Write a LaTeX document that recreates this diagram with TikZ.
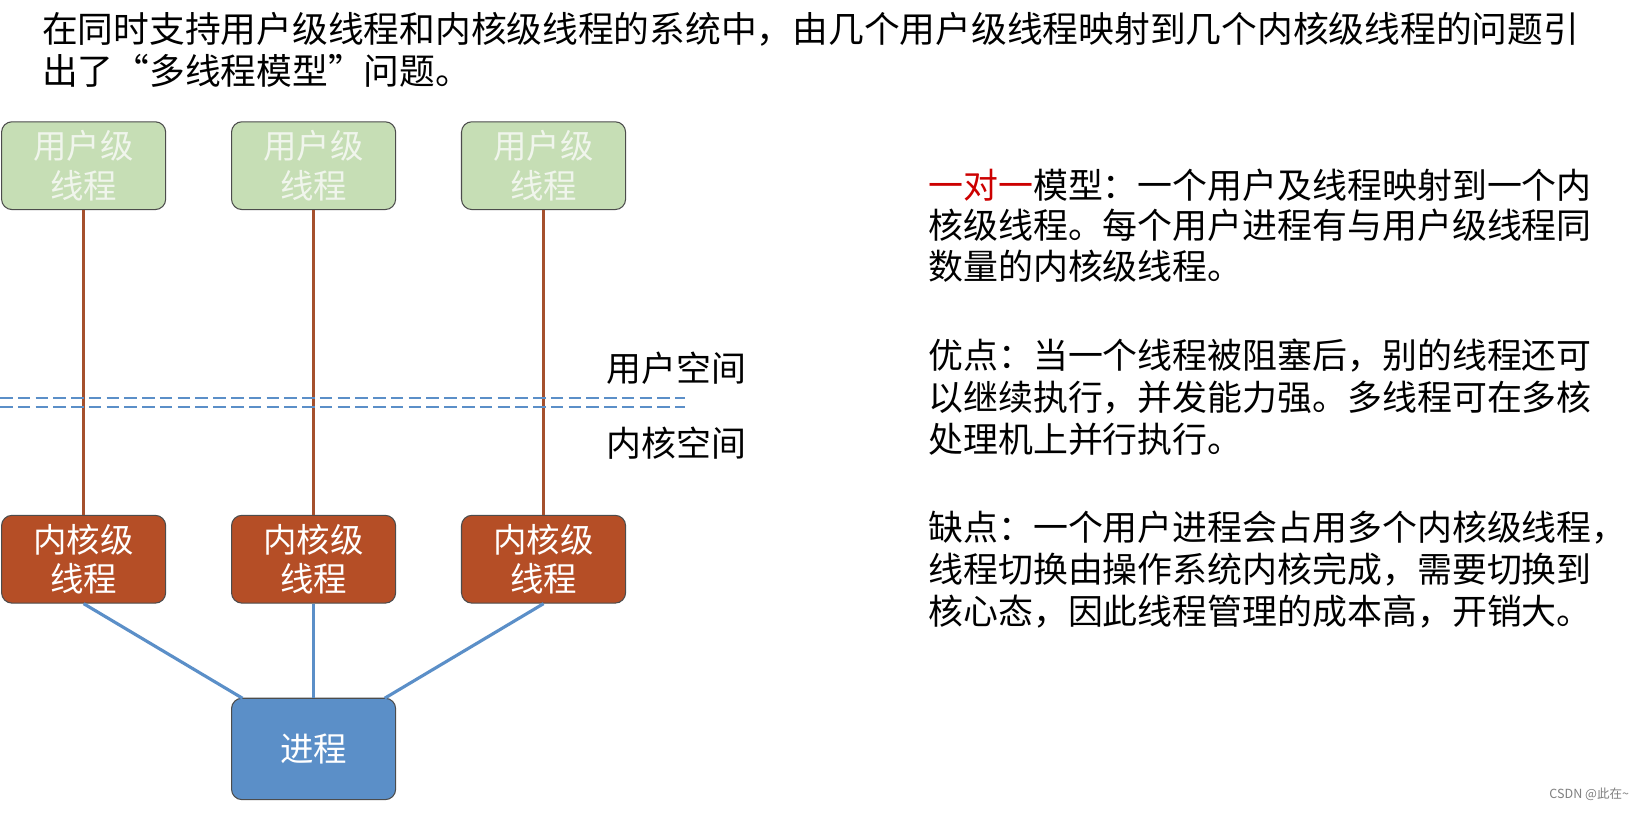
\documentclass[tikz,border=0pt]{standalone}
\usepackage{fontspec}
\setmainfont{Noto Sans CJK SC}
\begin{document}
\begin{tikzpicture}[x=1pt,y=-1pt,
 box/.style={draw=black!70,rounded corners=10pt,minimum width=157pt,minimum height=84pt,align=center,font=\fontsize{32}{38}\selectfont,line width=1pt},
 ubox/.style={box,fill={rgb,255:red,198;green,222;blue,181},text={rgb,255:red,240;green,245;blue,236}},
 kbox/.style={box,fill={rgb,255:red,181;green,78;blue,38},text=white},
 pbox/.style={box,fill={rgb,255:red,91;green,143;blue,200},text=white,minimum height=97pt},
 bl/.style={line width=3pt,draw={rgb,255:red,165;green,80;blue,45}},
 bu/.style={line width=3pt,draw={rgb,255:red,91;green,143;blue,200}},
 txt/.style={anchor=west,font=\fontsize{34.2}{40}\selectfont,inner sep=0pt},
 rtxt/.style={anchor=west,font=\fontsize{33.4}{40}\selectfont,inner sep=0pt}]
\useasboundingbox[fill=white] (0,0) rectangle (1568,778);
\node[txt] (t1) at (40,28) {在同时支持用户级线程和内核级线程的系统中，由几个用户级线程映射到几个内核级线程的问题引};
\node[txt] (t2) at (40,68) {出了“多线程模型”问题。};
\foreach \i/\x in {1/80,2/300,3/520}{
 \node[ubox] (u\i) at (\x,158.5) {用户级\\线程};
 \node[kbox] (k\i) at (\x,535) {内核级\\线程};
 \draw[bl] (u\i.south) -- (k\i.north);
}
\node[pbox] (p) at (300,716.5) {进程};
\coordinate (pl) at (232,668);
\coordinate (pr) at (368,668);
\draw[bu] (k1.south) -- (pl);
\draw[bu] (k2.south) -- (p.north);
\draw[bu] (k3.south) -- (pr);
\draw[line width=2pt,dash pattern=on 12pt off 5pt,draw={rgb,255:red,91;green,143;blue,200}] (0,381) -- (655,381) (0,389) -- (655,389);
\node[rtxt] (us) at (580,352) {用户空间};
\node[rtxt] (ks) at (580,424) {内核空间};
\node[rtxt] (r1) at (888,177) {\textcolor{red!80!black}{一对一}模型：一个用户及线程映射到一个内};
\node[rtxt] (r2) at (888,215) {核级线程。每个用户进程有与用户级线程同};
\node[rtxt] (r3) at (888,255) {数量的内核级线程。};
\node[rtxt] (r4) at (888,340) {优点：当一个线程被阻塞后，别的线程还可};
\node[rtxt] (r5) at (888,380) {以继续执行，并发能力强。多线程可在多核};
\node[rtxt] (r6) at (888,420) {处理机上并行执行。};
\node[rtxt] (r7) at (888,505) {缺点：一个用户进程会占用多个内核级线程，};
\node[rtxt] (r8) at (888,545) {线程切换由操作系统内核完成，需要切换到};
\node[rtxt] (r9) at (888,585) {核心态，因此线程管理的成本高，开销大。};
\node[anchor=east,font=\fontsize{12}{14}\selectfont,text=gray] (wm) at (1562,760) {CSDN @此在\textasciitilde};
\end{tikzpicture}
\end{document}
